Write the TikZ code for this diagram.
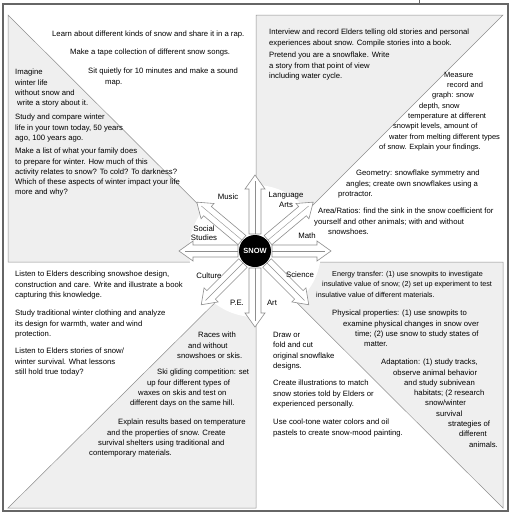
\documentclass[tikz,border=0pt]{standalone}
\usepackage{fontspec}
\setmainfont{Liberation Sans}
\usepackage{xcolor}
\definecolor{framegray}{HTML}{666666}
\definecolor{linegray}{HTML}{8E8E8E}
\definecolor{shadegray}{HTML}{EFEFEF}

\begin{document}
\begin{tikzpicture}[x=1pt, y=-1pt,
  txt/.style={anchor=north west, inner sep=0pt, align=left, font=\fontsize{7.7}{10.3}\selectfont},
  lbl/.style={inner sep=0.5pt, align=center, font=\fontsize{7.8}{9.5}\selectfont},
  shade/.style={fill=shadegray, draw=linegray, line width=0.5pt},
  arm/.style={fill=white, draw=linegray, line width=0.6pt}]
\useasboundingbox (0,0) rectangle (512,515);

% frame and shaded quarters
\draw[framegray, line width=1.6pt] (3,4) rectangle (508,511);
\draw[framegray, line width=0.6pt] (419,0) -- (419,4);
\draw[shade] (8,15) -- (256,262) -- (8,262) -- cycle;
\draw[shade] (256,15) -- (503,15) -- (256,262) -- cycle;
\draw[shade] (8,508) -- (256,262) -- (256,508) -- cycle;
\draw[shade] (256,262) -- (503,262) -- (503,508) -- cycle;

% snowflake
\fill[white] (255,251) circle (66);
\foreach \a in {0,40,90,140,180,225,270,315}{
  \begin{scope}[shift={(255,251)}, rotate=\a]
    \draw[arm] (17,-6) -- (62,-6) -- (62,-10) -- (76,0) -- (62,10) -- (62,6) -- (17,6) -- cycle;
    \draw[linegray, line width=0.4pt] (17,0) -- (70,0);
  \end{scope}
}
\node (snow) [circle, fill=black, minimum size=32pt, inner sep=0pt, text=white, font=\bfseries\fontsize{7.5}{9}\selectfont] at (255,251) {SNOW};
\node (music) [lbl] at (228,197) {Music};
\node (langarts) [lbl] at (286,200) {Language\\Arts};
\node (math) [lbl] at (307,236) {Math};
\node (science) [lbl] at (300,275) {Science};
\node (art) [lbl] at (272,303) {Art};
\node (pe) [lbl] at (237,303) {P.E.};
\node (culture) [lbl] at (209,276) {Culture};
\node (social) [lbl] at (204,233) {Social\\Studies};

% top left
\node (rap) [txt] at (52,31) {Learn about different kinds of snow and share it in a rap.};
\node (tape) [txt] at (70,49) {Make a tape collection of different snow songs.};
\node (soundmap) [txt] at (88,68) {Sit quietly for 10 minutes and make a sound\\\hspace*{17pt}map.};
\node (imagine) [txt] at (15,69) {Imagine\\winter life\\without snow and\\\hspace*{2pt}write a story about it.};
\node (compare) [txt] at (15,114) {Study and compare winter\\life in your town today, 50 years\\ago, 100 years ago.};
\node (familylist) [txt] at (15,148) {Make a list of what your family does\\to prepare for winter. How much of this\\activity relates to snow? To cold? To darkness?\\Which of these aspects of winter impact your life\\more and why?};

% top right
\node (interview) [txt] at (269,29) {Interview and record Elders telling old stories and personal\\experiences about snow. Compile stories into a book.};
\node (pretend) [txt] at (269,52) {Pretend you are a snowflake. Write\\a story from that point of view\\including water cycle.};
\node (measure) [txt, font=\fontsize{7.5}{10.3}\selectfont] at (379,72) {\hspace*{65pt}Measure\\\hspace*{68pt}record and\\\hspace*{53pt}graph: snow\\\hspace*{40pt}depth, snow\\\hspace*{29pt}temperature at different\\\hspace*{14pt}snowpit levels, amount of\\\hspace*{10pt}water from melting different types\\of snow. Explain your findings.};
\node (geometry) [txt] at (338,170) {\hspace*{18pt}Geometry: snowflake symmetry and\\\hspace*{8pt}angles; create own snowflakes using a\\protractor.};
\node (ratios) [txt] at (314,208) {\hspace*{4pt}Area/Ratios: find the sink in the snow coefficient for\\yourself and other animals; with and without\\\hspace*{14pt}snowshoes.};

% bottom left
\node (snowshoe) [txt] at (15,271) {Listen to Elders describing snowshoe design,\\construction and care. Write and illustrate a book\\capturing this knowledge.};
\node (clothing) [txt] at (15,310) {Study traditional winter clothing and analyze\\its design for warmth, water and wind\\protection.};
\node (survival) [txt] at (15,348) {Listen to Elders stories of snow/\\winter survival. What lessons\\still hold true today?};
\node (races) [txt] at (177,332) {\hspace*{21pt}Races with\\\hspace*{11pt}and without\\snowshoes or skis.};
\node (skiglide) [txt] at (130,369) {\hspace*{27pt}Ski gliding competition: set\\\hspace*{17pt}up four different types of\\\hspace*{8pt}waxes on skis and test on\\different days on the same hill.};
\node (shelters) [txt] at (89,419) {\hspace*{29pt}Explain results based on temperature\\\hspace*{18pt}and the properties of snow. Create\\\hspace*{9pt}survival shelters using traditional and\\contemporary materials.};

% bottom right
\node (energy) [txt, font=\fontsize{7.2}{10.3}\selectfont] at (316,271) {\hspace*{16pt}Energy transfer: (1) use snowpits to investigate\\\hspace*{6pt}insulative value of snow; (2) set up experiment to test\\insulative value of different materials.};
\node (physical) [txt] at (332,310) {Physical properties: (1) use snowpits to\\\hspace*{11pt}examine physical changes in snow over\\\hspace*{23pt}time; (2) use snow to study states of\\\hspace*{32pt}matter.};
\node (drawfold) [txt] at (273,332) {Draw or\\fold and cut\\original snowflake\\designs.};
\node (illustrate) [txt] at (273,380) {Create illustrations to match\\snow stories told by Elders or\\experienced personally.};
\node (painting) [txt] at (273,419) {Use cool-tone water colors and oil\\pastels to create snow-mood painting.};
\node (adaptation) [txt] at (381,359) {Adaptation: (1) study tracks,\\\hspace*{12pt}observe animal behavior\\\hspace*{23pt}and study subnivean\\\hspace*{33pt}habitats; (2 research\\\hspace*{44pt}snow/winter\\\hspace*{55pt}survival\\\hspace*{67pt}strategies of\\\hspace*{78pt}different\\\hspace*{88pt}animals.};
\end{tikzpicture}
\end{document}
